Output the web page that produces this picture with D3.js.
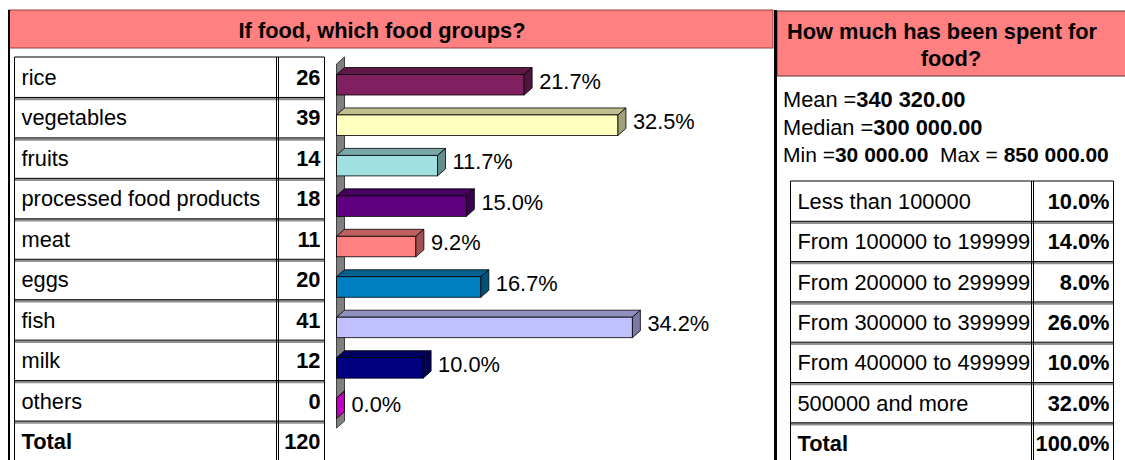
<!DOCTYPE html>
<html>
<head>
<meta charset="utf-8">
<script src="https://cdn.jsdelivr.net/npm/d3@7"></script>
<style>
  body { margin: 0; background: #fff; }
  svg text { font-family: "Liberation Sans", Arial, sans-serif; fill: #000; }
</style>
</head>
<body>
<div id="chart"></div>
<script>
// Food groups (left table + 3D bar chart), multiple answers so total is respondents
const foodGroups = ["rice", "vegetables", "fruits", "processed food products", "meat", "eggs", "fish", "milk", "others"];
const foodCounts = [26, 39, 14, 18, 11, 20, 41, 12, 0];
const foodTotal = 120;
const foodColors = ["#802060", "#FFFFC0", "#A0E0E0", "#600080", "#FF8080", "#0080C0", "#C0C0FF", "#000080", "#C000C0"];

// Spending (right panel)
const spendStats = [
    [["Mean =", false], ["340 320.00", true]],
    [["Median =", false], ["300 000.00", true]],
    [["Min =", false], ["30 000.00", true], ["  Max =", false], [" 850 000.00", true]]
];
const spendClasses = ["Less than 100000", "From 100000 to 199999", "From 200000 to 299999", "From 300000 to 399999", "From 400000 to 499999", "500000 and more"];
const spendShares = [10.0, 14.0, 8.0, 26.0, 10.0, 32.0];

const width = 1125, height = 460;
const fontSize = "21.8px";

const svg = d3.select("#chart").append("svg")
    .attr("width", width)
    .attr("height", height);

// Title bands
svg.append("rect").attr("x", 9).attr("y", 10).attr("width", 764).attr("height", 38)
    .attr("fill", "#FF8080").attr("stroke", "#904040").attr("stroke-width", 1);
svg.append("rect").attr("x", 777).attr("y", 11).attr("width", 350).attr("height", 65)
    .attr("fill", "#FF8080").attr("stroke", "#603030").attr("stroke-width", 1);

svg.append("text").attr("x", 382).attr("y", 38)
    .attr("text-anchor", "middle").style("font-size", fontSize).style("font-weight", "bold")
    .text("If food, which food groups?");
svg.append("text").attr("x", 942).attr("y", 39)
    .attr("text-anchor", "middle").style("font-size", fontSize).style("font-weight", "bold")
    .text("How much has been spent for");
svg.append("text").attr("x", 951).attr("y", 66)
    .attr("text-anchor", "middle").style("font-size", fontSize).style("font-weight", "bold")
    .text("food?");

// Frame lines
svg.append("line").attr("x1", 9).attr("x2", 9).attr("y1", 10).attr("y2", height)
    .attr("stroke", "#000").attr("stroke-width", 2);
svg.append("line").attr("x1", 775.5).attr("x2", 775.5).attr("y1", 10).attr("y2", height)
    .attr("stroke", "#000").attr("stroke-width", 3);

// Table helper: rows with double separators
function drawTable(g, labels, values, x0, xSep, x1, yScale, boldLast) {
    const rows = labels.map((l, i) => ({label: l, value: values[i], i: i}));
    const top = yScale(0);
    const bottom = height + 5;

    // row separators (gray + black)
    rows.slice(1).forEach(r => {
        const y = yScale(r.i);
        g.append("line").attr("x1", x0).attr("x2", x1).attr("y1", y + 1.5).attr("y2", y + 1.5)
            .attr("stroke", "#909090").attr("stroke-width", 2.5);
        g.append("line").attr("x1", x0).attr("x2", x1).attr("y1", y).attr("y2", y)
            .attr("stroke", "#000").attr("stroke-width", 1);
    });
    // outer lines
    g.append("line").attr("x1", x0).attr("x2", x1).attr("y1", top).attr("y2", top).attr("stroke", "#000");
    [x0, xSep, xSep + 2, x1].forEach(x => {
        g.append("line").attr("x1", x).attr("x2", x).attr("y1", top).attr("y2", bottom)
            .attr("stroke", "#000").attr("stroke-width", 1);
    });

    rows.forEach(r => {
        const y = yScale(r.i) + 28;
        const bold = boldLast && r.i === rows.length - 1;
        g.append("text").attr("x", x0 + 7).attr("y", y)
            .style("font-size", fontSize).style("font-weight", bold ? "bold" : "normal")
            .text(r.label);
        g.append("text").attr("x", x1 - 4).attr("y", y)
            .attr("text-anchor", "end").style("font-size", fontSize).style("font-weight", "bold")
            .text(r.value);
    });
}

// Left table
const rowH = 40.45;
const leftRows = d3.scaleLinear().domain([0, 1]).range([57, 57 + rowH]);
drawTable(svg.append("g"), foodGroups.concat(["Total"]), foodCounts.concat([foodTotal]), 14.5, 276.5, 324.5, leftRows, true);

// 3D bar chart
const depthX = 8, depthY = 7;
const yBand = d3.scaleBand().domain(foodGroups).range([57, 57 + rowH * foodGroups.length]);
const xScale = d3.scaleLinear().domain([0, 0.4]).range([336.5, 336.5 + 346.4]);

const chart = svg.append("g");

// back wall
const wallTop = yBand.range()[0], wallBottom = yBand.range()[1];
chart.append("path")
    .attr("d", `M${xScale(0)},${wallTop + depthY} L${xScale(0) + depthX},${wallTop} L${xScale(0) + depthX},${wallBottom} L${xScale(0)},${wallBottom + depthY} Z`)
    .attr("fill", "#808080").attr("stroke", "#404040").attr("stroke-width", 1);

const data = foodGroups.map((g, i) => ({group: g, share: foodCounts[i] / foodTotal, color: foodColors[i]}));

const bars = chart.selectAll(".bar").data(data).enter().append("g").attr("class", "bar");

bars.each(function(d) {
    const g = d3.select(this);
    const x0 = xScale(0), x1 = xScale(d.share);
    const yf = yBand(d.group) + 17.5, h = 20.5;
    const c = d3.color(d.color);
    const topCol = d3.rgb(c.r * 0.75, c.g * 0.75, c.b * 0.75);
    const sideCol = d3.rgb(c.r * 0.63, c.g * 0.63, c.b * 0.63);
    // top face
    g.append("path")
        .attr("d", `M${x0},${yf} L${x0 + depthX},${yf - depthY} L${x1 + depthX},${yf - depthY} L${x1},${yf} Z`)
        .attr("fill", topCol).attr("stroke", "#000").attr("stroke-width", 0.8);
    // front face
    g.append("rect").attr("x", x0).attr("y", yf).attr("width", x1 - x0).attr("height", h)
        .attr("fill", c).attr("stroke", "#000").attr("stroke-width", 0.8);
    // side face
    g.append("path")
        .attr("d", `M${x1},${yf} L${x1 + depthX},${yf - depthY} L${x1 + depthX},${yf + h - depthY} L${x1},${yf + h} Z`)
        .attr("fill", d.share === 0 ? c : sideCol).attr("stroke", "#000").attr("stroke-width", 0.8);
    // label
    g.append("text").attr("x", x1 + depthX + 7).attr("y", yf + 14)
        .style("font-size", fontSize)
        .text(d3.format(".1f")(d.share * 100) + "%");
});

// Right panel: statistics
const stats = svg.append("g");
spendStats.forEach((line, i) => {
    const t = stats.append("text").attr("x", 783).attr("y", 107 + i * 27.5)
        .style("font-size", i === 2 ? "21px" : fontSize).attr("xml:space", "preserve").style("white-space", "pre");
    line.forEach(([s, b]) => {
        t.append("tspan").style("font-weight", b ? "bold" : "normal").text(s);
    });
});

// Right table
const rightRows = d3.scaleLinear().domain([0, 1]).range([181, 181 + 40.3]);
drawTable(svg.append("g"), spendClasses.concat(["Total"]),
    spendShares.map(v => d3.format(".1f")(v) + "%").concat([d3.format(".1f")(d3.sum(spendShares)) + "%"]),
    790.5, 1031.5, 1113.5, rightRows, true);
</script>
</body>
</html>
